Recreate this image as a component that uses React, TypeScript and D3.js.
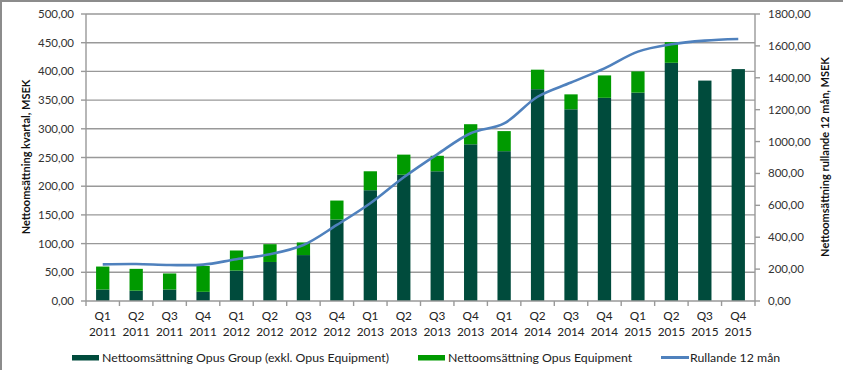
import React, { useEffect } from "react";
import * as d3 from "d3";

const quarters = [
  "Q1 2011", "Q2 2011", "Q3 2011", "Q4 2011",
  "Q1 2012", "Q2 2012", "Q3 2012", "Q4 2012",
  "Q1 2013", "Q2 2013", "Q3 2013", "Q4 2013",
  "Q1 2014", "Q2 2014", "Q3 2014", "Q4 2014",
  "Q1 2015", "Q2 2015", "Q3 2015", "Q4 2015",
];
// Opus Group excl. Opus Equipment (MSEK)
const groupSales = [20, 18, 20, 16, 53, 68, 80, 142, 193, 220, 226, 273, 261, 369, 334, 354, 363, 415, 384, 404];
// Opus Equipment (MSEK)
const equipmentSales = [40, 38, 28, 45, 35, 31, 22, 33, 33, 35, 27, 35, 35, 34, 26, 39, 37, 36, 0, 0];
// Rolling 12 months (MSEK, right axis)
const rolling12 = [230, 232, 226, 228, 262, 293, 351, 477, 613, 776, 920, 1052, 1114, 1281, 1370, 1459, 1564, 1610, 1633, 1643];

const leftTicks = d3.range(0, 501, 50);
const rightTicks = d3.range(0, 1801, 200);

const FONT = "Lato, 'Open Sans', sans-serif";
const DARK = "#004B3C";
const LIGHT = "#009A00";
const LINE = "#4F81BD";
const GRID = "#999999";
const fmt = (v: number) => v.toFixed(2).replace(".", ",");

const W = 843, H = 370;
const plot = { left: 86, right: 755, top: 14, bottom: 301 };

export default function App() {
  useEffect(() => {
    document.body.style.margin = "0";
  }, []);

  const band = d3.scaleBand().domain(quarters).range([plot.left, plot.right]);
  const yL = d3.scaleLinear().domain([0, 500]).range([plot.bottom, plot.top]);
  const yR = d3.scaleLinear().domain([0, 1800]).range([plot.bottom, plot.top]);
  const bw = 13.3;

  const line = d3.line<number>()
    .x((_, i) => band(quarters[i])! + band.bandwidth() / 2)
    .y(d => yR(d))
    .curve(d3.curveCatmullRom.alpha(0.5));

  return (
    <svg width={W} height={H} style={{ display: "block", background: "#fff" }} fontFamily={FONT}>
      <rect x={1} y={1} width={W + 20} height={H + 20} fill="none" stroke="#8c8c8c" strokeWidth={2} />

      {/* gridlines */}
      {leftTicks.slice(1).map(t => (
        <line key={t} x1={plot.left} x2={plot.right} y1={yL(t)} y2={yL(t)} stroke={GRID} strokeWidth={1.4} />
      ))}

      {/* bars */}
      {quarters.map((q, i) => {
        const cx = band(q)! + band.bandwidth() / 2;
        const g = groupSales[i], e = equipmentSales[i];
        return (
          <g key={q}>
            <rect x={cx - bw / 2} y={yL(g)} width={bw} height={yL(0) - yL(g)} fill={DARK} />
            {e > 0 && <rect x={cx - bw / 2} y={yL(g + e)} width={bw} height={yL(g) - yL(g + e)} fill={LIGHT} />}
          </g>
        );
      })}

      {/* left axis */}
      <line x1={plot.left} x2={plot.left} y1={plot.top} y2={plot.bottom} stroke={GRID} strokeWidth={1.4} />
      {leftTicks.map(t => (
        <g key={t}>
          <line x1={plot.left - 5} x2={plot.left} y1={yL(t)} y2={yL(t)} stroke={GRID} strokeWidth={1.4} />
          <text x={74} y={yL(t)} dy="0.35em" textAnchor="end" fontSize={11.5} fill="#333">{fmt(t)}</text>
        </g>
      ))}

      {/* right axis */}
      <line x1={plot.right} x2={plot.right} y1={plot.top} y2={plot.bottom} stroke={GRID} strokeWidth={1.4} />
      {rightTicks.map(t => (
        <g key={t}>
          <line x1={plot.right} x2={plot.right + 5} y1={yR(t)} y2={yR(t)} stroke={GRID} strokeWidth={1.4} />
          <text x={768} y={yR(t)} dy="0.35em" textAnchor="start" fontSize={11.5} fill="#333">{fmt(t)}</text>
        </g>
      ))}

      {/* bottom axis */}
      <line x1={plot.left} x2={plot.right} y1={plot.bottom} y2={plot.bottom} stroke={GRID} strokeWidth={1.4} />
      {quarters.map((q, i) => {
        const x0 = band(q)!;
        const cx = x0 + band.bandwidth() / 2;
        const [qq, yy] = q.split(" ");
        return (
          <g key={q}>
            <line x1={x0} x2={x0} y1={plot.bottom} y2={plot.bottom + 5} stroke={GRID} strokeWidth={1.4} />
            {i === quarters.length - 1 && (
              <line x1={plot.right} x2={plot.right} y1={plot.bottom} y2={plot.bottom + 5} stroke={GRID} strokeWidth={1.4} />
            )}
            <text x={cx} y={320} textAnchor="middle" fontSize={11.8} fill="#222">{qq}</text>
            <text x={cx} y={336} textAnchor="middle" fontSize={11.8} fill="#222">{yy}</text>
          </g>
        );
      })}

      {/* rolling line */}
      <path d={line(rolling12)!} fill="none" stroke={LINE} strokeWidth={2.6} />

      {/* axis titles */}
      <text transform={`translate(30,157) rotate(-90)`} textAnchor="middle" fontSize={11} fontWeight="bold" fill="#111">
        Nettoomsättning kvartal, MSEK
      </text>
      <text transform={`translate(829,157) rotate(-90)`} textAnchor="middle" fontSize={11} fontWeight="bold" fill="#111">
        Nettoomsättning rullande 12 mån, MSEK
      </text>

      {/* legend */}
      <rect x={72} y={355} width={27} height={5.5} fill={DARK} />
      <text x={102} y={357.5} dy="0.35em" fontSize={12.3} fill="#222">Nettoomsättning Opus Group (exkl. Opus Equipment)</text>
      <rect x={418} y={355} width={27} height={5.5} fill={LIGHT} />
      <text x={448} y={357.5} dy="0.35em" fontSize={12.3} fill="#222">Nettoomsättning Opus Equipment</text>
      <line x1={661} x2={689} y1={357.5} y2={357.5} stroke={LINE} strokeWidth={3} />
      <text x={690} y={357.5} dy="0.35em" fontSize={12.3} fill="#222">Rullande 12 mån</text>
    </svg>
  );
}
